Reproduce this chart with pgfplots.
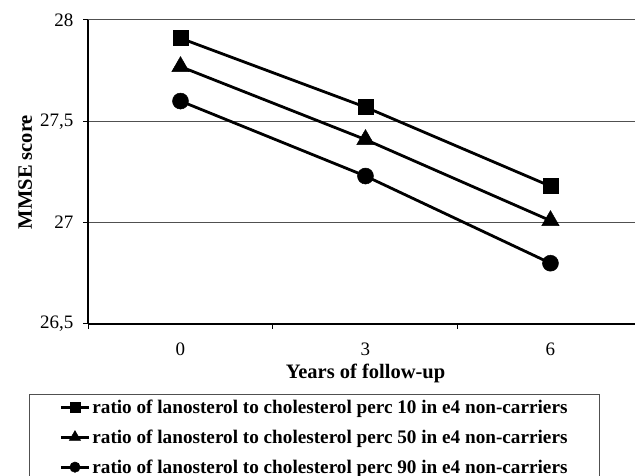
\documentclass[border=0pt]{standalone}
\usepackage{pgfplots}
\pgfplotsset{compat=1.18}
\usepackage{fontspec}
\setmainfont{Liberation Serif}
\definecolor{gridc}{HTML}{505050}
\begin{document}
\begin{tikzpicture}[x=1pt,y=1pt]
\path[use as bounding box] (0,0) rectangle (635,476);
\clip (0,0) rectangle (635,476);
\begin{axis}[
  at={(88pt,152pt)}, anchor=south west,
  scale only axis, width=547pt, height=304pt,
  xmin=-0.5, xmax=2.457, ymin=26.5, ymax=28,
  axis x line*=bottom, axis y line*=left,
  axis line style={line width=1.2pt, black},
  xtick={0,1,2}, xticklabels={0,3,6},
  minor xtick={-0.5,0.5,1.5},
  major x tick style={draw=none},
  minor x tick style={line width=1pt, black},
  ytick={26.5,27,27.5,28},
  y tick style={line width=1pt, black},
  tick align=outside,
  minor tick length=5pt, major tick length=5pt,
  ymajorgrids, grid style={line width=1pt, gridc},
  /pgf/number format/assume math mode=true,
  /pgf/number format/use comma,
  /pgf/number format/fixed,
  /pgf/number format/precision=1,
  tick label style={font=\fontsize{19}{22}\selectfont},
  xticklabel style={anchor=center, yshift=-20pt},
  yticklabel style={anchor=east, xshift=-6pt},
  xlabel={\textbf{Years of follow-up}},
  ylabel={\textbf{MMSE score}},
  label style={font=\fontsize{20.5}{24}\selectfont},
  xlabel style={at={(axis cs:1,26.5)}, anchor=center, yshift=-49pt},
  ylabel style={at={(axis description cs:-0.115,0.5)}, anchor=center},
  legend style={at={(axis description cs:-0.1079,-0.2303)}, anchor=north west,
    draw=gridc, line width=1.2pt, font=\fontsize{19.2}{22}\selectfont\bfseries,
    inner xsep=30pt, inner ysep=3pt, row sep=11pt,
    nodes={inner xsep=2pt}},
  legend cell align=left,
  legend image code/.code={
    \draw[#1, mark=none] (0pt,0pt) -- (28pt,0pt);
    \draw[#1, line width=0pt, mark options={solid, fill=black, draw=black, line width=0.5pt, scale=0.65}] plot coordinates {(14pt,0pt)};
  },
]
\addplot[black, line width=2.8pt, mark=square*, mark size=7.5pt, mark options={solid, fill=black, line width=0.5pt}] coordinates {(0,27.91) (1,27.57) (2,27.18)};
\addlegendentry{ratio of lanosterol to cholesterol perc 10 in e4 non-carriers}
\addplot[black, line width=2.8pt, mark=triangle*, mark size=10pt, mark options={solid, fill=black, line width=0.5pt}] coordinates {(0,27.77) (1,27.41) (2,27.01)};
\addlegendentry{ratio of lanosterol to cholesterol perc 50 in e4 non-carriers}
\addplot[black, line width=2.8pt, mark=*, mark size=8pt, mark options={solid, fill=black, line width=0.5pt}] coordinates {(0,27.60) (1,27.23) (2,26.80)};
\addlegendentry{ratio of lanosterol to cholesterol perc 90 in e4 non-carriers}
\end{axis}
\end{tikzpicture}
\end{document}
